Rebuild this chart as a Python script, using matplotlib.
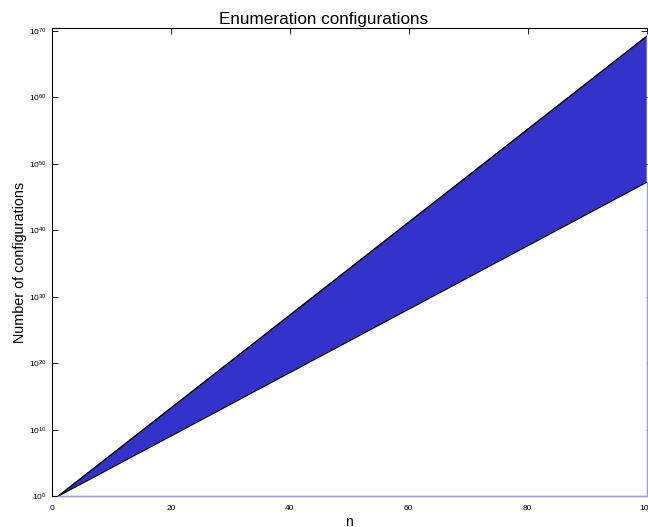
import matplotlib
matplotlib.use('Agg')
import matplotlib.pyplot as plt
from matplotlib.ticker import FixedLocator, NullLocator

plt.rcParams['font.family'] = ['Liberation Sans', 'DejaVu Sans']
plt.rcParams['mathtext.fontset'] = 'custom'
plt.rcParams['mathtext.rm'] = 'Liberation Sans'
plt.rcParams['mathtext.default'] = 'regular'

# values (straight lines on the log axis)
n = [1, 25, 50, 75, 100]
lower = [1e0, 2.8e11, 2.4e23, 2.0e35, 1.7e47]
upper = [1e0, 6.0e16, 1.8e34, 5.3e51, 1.6e69]
x_ticks = [0, 20, 40, 60, 80, 100]
y_ticks = [1e0, 1e10, 1e20, 1e30, 1e40, 1e50, 1e60, 1e70]

fig = plt.figure(figsize=(6.48, 5.27), dpi=100)
ax = fig.add_axes([0.080, 0.058, 0.918, 0.889])
ax.set_yscale('log')
ax.set_axisbelow(True)

# lower band is white, band between lower and upper is blue
ax.fill_between(n, [1] * len(n), lower, facecolor='white', edgecolor='none', zorder=1)
ax.fill_between(n, lower, upper, facecolor='#3333cc', edgecolor='none', zorder=1)
ax.plot(n, upper, color='black', lw=1.0, zorder=3)
ax.plot(n, lower, color='black', lw=0.8, zorder=3)
# outline of the lower area
ax.plot([n[0], n[-1], n[-1]], [1, 1, lower[-1]], color='#9a9ae0', lw=1.0,
        zorder=3, clip_on=False)

ax.set_xlim(0, 100)
ax.set_ylim(1, 10 ** 70.45)
ax.xaxis.set_major_locator(FixedLocator(x_ticks))
ax.yaxis.set_major_locator(FixedLocator(y_ticks))
ax.yaxis.set_minor_locator(NullLocator())
ax.tick_params(axis='both', which='major', direction='in', length=4, width=0.6,
               labelsize=6, top=True, right=True, bottom=False, pad=4)
ax.tick_params(axis='x', pad=6)
ax.spines['right'].set_visible(False)

ax.set_title('Enumeration configurations', fontsize=12.3, pad=3, x=0.457)
ax.set_xlabel('n', fontsize=10, labelpad=2)
ax.set_ylabel('Number of configurations', fontsize=10.4, labelpad=1)

fig.savefig('out.png', dpi=100)
